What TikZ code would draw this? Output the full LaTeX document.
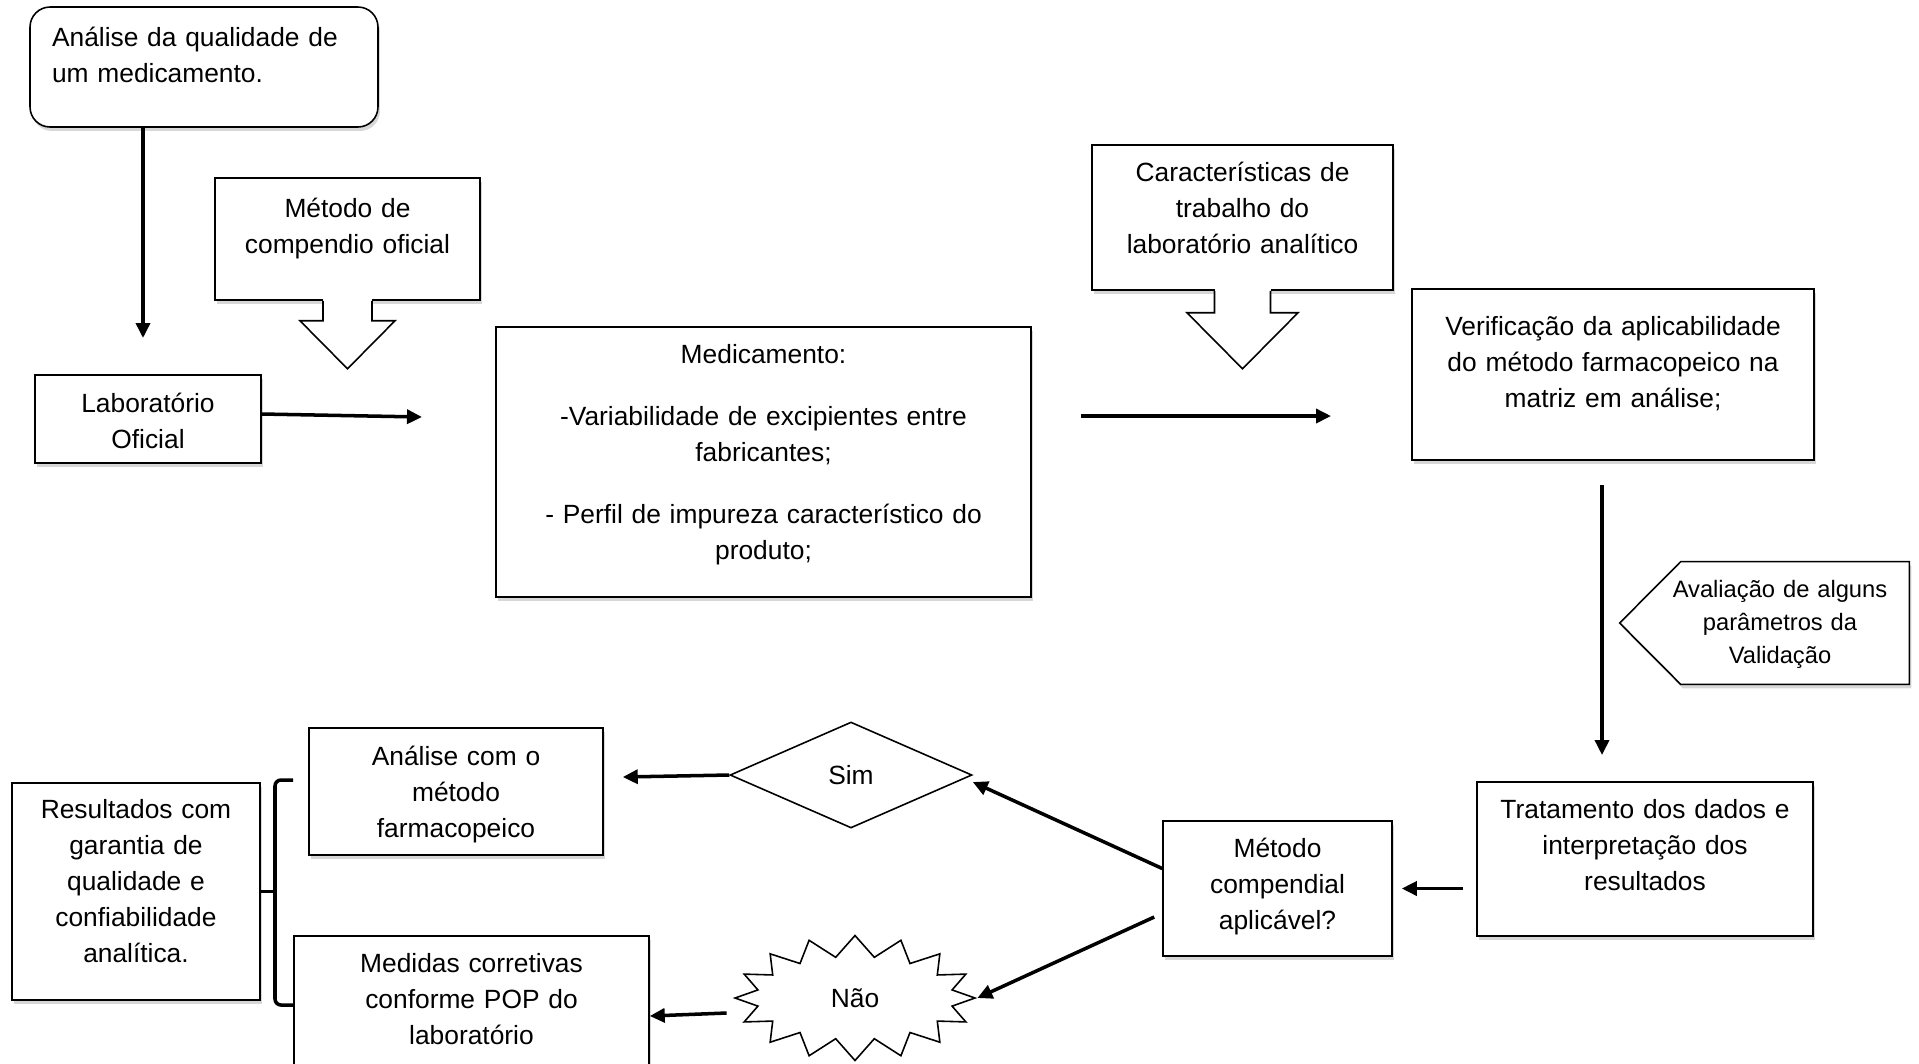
\documentclass[tikz,border=0pt]{standalone}
\usepackage{fontspec}
\setmainfont{Liberation Sans}
\usepackage{tikz}
\usetikzlibrary{
  arrows.meta, shapes.geometric, shapes.symbols,
  positioning, calc, shadows, backgrounds
}
\definecolor{ShadowGray}{RGB}{140,140,140}
\newcommand{\mainsize}{\fontsize{15}{20.5}\selectfont}
\newcommand{\smallsize}{\fontsize{13.5}{18.8}\selectfont}
\tikzset{
  softshadow/.style={drop shadow={shadow xshift=0.04cm, shadow yshift=-0.08cm,
      fill=ShadowGray, opacity=0.35}},
  box/.style={draw, line width=0.9pt, fill=white, inner sep=0pt, align=center,
    text height=0.72cm, font=\mainsize, softshadow},
  flow/.style={line width=2pt, -{Triangle[length=0.3cm,width=0.28cm]}},
  brace/.style={line width=2pt, rounded corners=0.12cm},
}

\begin{document}
\begin{tikzpicture}[x=0.02cm, y=-0.02cm]
        \useasboundingbox (0,0) rectangle (1919,1063);
        % Upper row
        \node[box, rounded corners=0.4cm, align=left, text width=6.08cm, inner xsep=0.44cm,
          text height=0.79cm, text depth=1.61cm] (analise) at (204,67)
          {Análise da qualidade de\\um medicamento.};
        \node[box, text width=4.52cm, text height=0.74cm, text depth=1.02cm] (lab) at (148,419)
          {Laboratório\\Oficial};
        \node[box, text width=5.3cm, text height=0.78cm, text depth=1.66cm] (metodo) at (347.5,239)
          {Método de\\compendio oficial};
        \node[box, text width=10.7cm, text depth=4.68cm] (med) at (763.5,462)
          {Medicamento:\\[0.52cm]-Variabilidade de excipientes entre\\fabricantes;\\[0.52cm]%
           - Perfil de impureza característico do\\produto;};
        \node[box, text width=6.02cm, text height=0.72cm, text depth=2.18cm] (carac) at (1242.5,217.5)
          {Características de\\trabalho do\\laboratório analítico};
        \node[box, text width=8.04cm, text height=0.93cm, text depth=2.49cm] (verif) at (1613,374.5)
          {Verificação da aplicabilidade\\do método farmacopeico na\\matriz em análise;};
        % Down arrows of the two callouts
        \foreach \nm/\shw/\hdw/\shl/\tip in {metodo/0.49/0.95/0.4/1.36, carac/0.56/1.11/0.44/1.56}{
          \fill[white] ([xshift=-\shw cm,yshift=0.04cm]\nm.south) rectangle ([xshift=\shw cm,yshift=-\shl cm]\nm.south);
          \draw[line width=0.9pt] ([xshift=-\shw cm]\nm.south) -- ([xshift=-\shw cm,yshift=-\shl cm]\nm.south)
            -- ([xshift=-\hdw cm,yshift=-\shl cm]\nm.south) -- ([yshift=-\tip cm]\nm.south)
            -- ([xshift=\hdw cm,yshift=-\shl cm]\nm.south) -- ([xshift=\shw cm,yshift=-\shl cm]\nm.south)
            -- ([xshift=\shw cm]\nm.south);}
        % Right column
        \node[font=\smallsize, align=center, inner sep=0pt, text width=5.28cm,
          text height=0.7cm, text depth=1.74cm] (aval) at (1780,623)
          {Avaliação de alguns\\parâmetros da\\Validação};
        \begin{scope}[on background layer]
          \draw[line width=0.9pt, fill=white, softshadow] ([xshift=0.66cm]aval.north west) -- ([xshift=-0.06cm]aval.north east)
            -- ([xshift=-0.06cm]aval.south east) -- ([xshift=0.66cm]aval.south west) -- ([xshift=-0.56cm]aval.west) -- cycle;
        \end{scope}
        \node[box, text width=6.72cm, text depth=2.36cm] (trat) at (1645,859)
          {Tratamento dos dados e\\interpretação dos\\resultados};
        \node[box, text width=4.58cm, text depth=1.98cm] (comp) at (1277.5,888.5)
          {Método\\compendial\\aplicável?};
        % Decision
        \node[diamond, draw, line width=0.9pt, inner sep=0pt, minimum width=4.84cm,
          minimum height=2.12cm, font=\mainsize] (sim) at (851,775) {Sim};
        \node[starburst, draw, line width=0.9pt, inner sep=0pt, starburst points=16,
          starburst point height=0.42cm, random starburst=0, minimum width=4.8cm,
          minimum height=2.5cm, font=\mainsize] (nao) at (855,998) {Não};
        \node[box, text width=5.88cm, text height=0.74cm, text depth=1.8cm] (farma) at (456,791.5)
          {Análise com o\\método\\farmacopeico};
        \node[box, text width=7.1cm, text depth=1.88cm] (medidas) at (471.5,1001)
          {Medidas corretivas\\conforme POP do\\laboratório};
        \node[box, text width=4.96cm, text height=0.7cm, text depth=3.64cm] (result) at (136,891.5)
          {Resultados com\\garantia de\\qualidade e\\confiabilidade\\analítica.};
        % Connectors
        \coordinate (a1end) at (143,338);
        \draw[flow] (analise.south -| a1end) -- (a1end);
        \coordinate (a2end) at (422,417);
        \draw[flow] ([yshift=0.1cm]lab.east) -- (a2end);
        \coordinate (a3start) at (1081,416);
        \coordinate (a3end) at (1331,416);
        \draw[flow] (a3start) -- (a3end);
        \coordinate (a4start) at (1602,485);
        \coordinate (a4end) at (1602,755);
        \draw[flow] (a4start) -- (a4end);
        \draw[flow] ($(trat.west |- comp.east)+(-0.26cm,0)$) -- ([xshift=0.18cm]comp.east);
        \draw[flow] ([yshift=0.4cm]comp.west) -- ([yshift=-0.14cm]sim.east);
        \draw[flow] ([xshift=-0.16cm,yshift=-0.57cm]comp.west) -- (nao.east);
        \draw[flow] (sim.west) -- ([xshift=0.38cm,yshift=0.29cm]farma.east);
        \draw[flow] ([xshift=-0.12cm,yshift=-0.3cm]nao.west) -- ([yshift=-0.3cm]medidas.east);
        % Brace joining the two outcomes
        \draw[brace] (293,780) -- (275,780) -- (275,1005) -- (293,1005);
        \draw[line width=2pt] (result.east) -- ++(0.3cm,0);
\end{tikzpicture}
\end{document}
